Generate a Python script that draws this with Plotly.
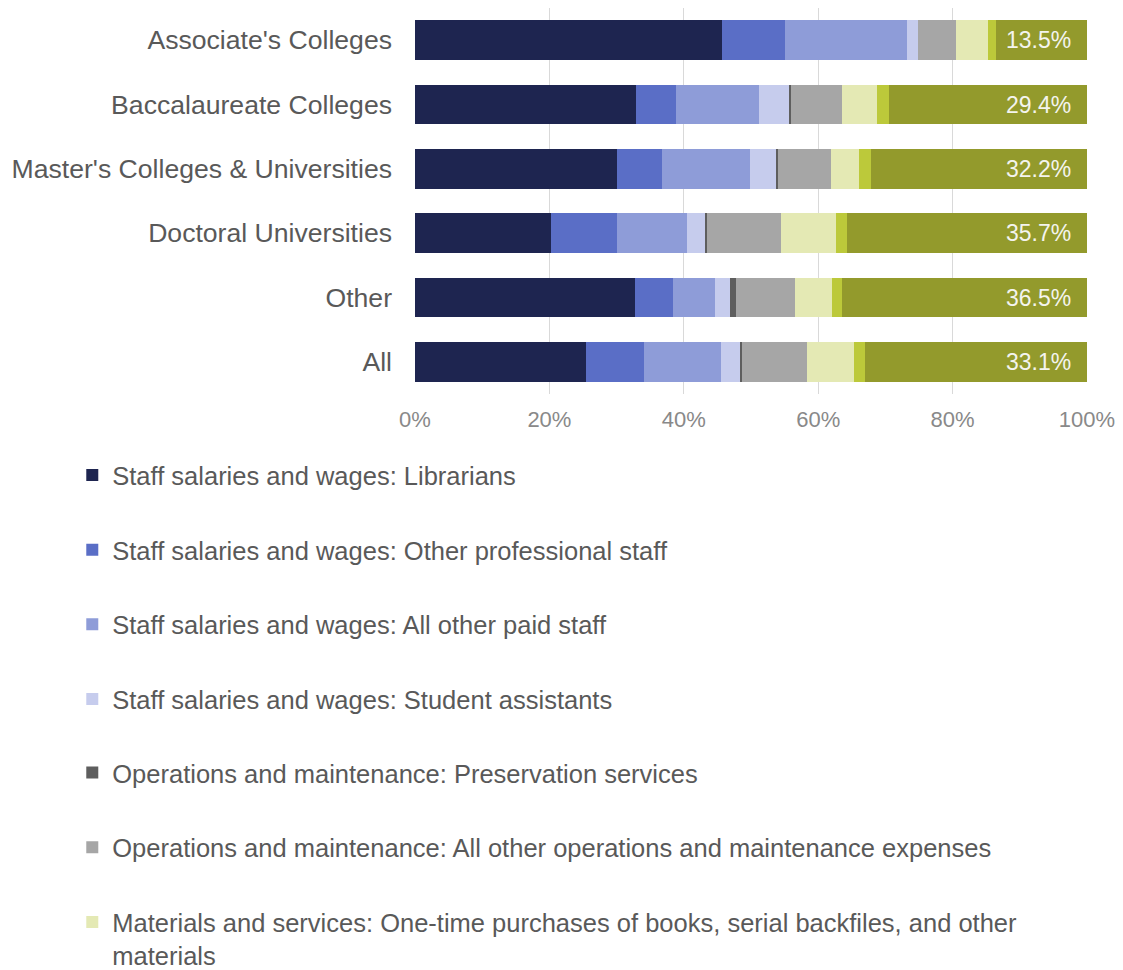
import plotly.graph_objects as go

# Library expense shares by institution type (percent of total expenses)
categories = [
    "Associate's Colleges",
    "Baccalaureate Colleges",
    "Master's Colleges & Universities",
    "Doctoral Universities",
    "Other",
    "All",
]

series_names = [
    "Staff salaries and wages: Librarians",
    "Staff salaries and wages: Other professional staff",
    "Staff salaries and wages: All other paid staff",
    "Staff salaries and wages: Student assistants",
    "Operations and maintenance: Preservation services",
    "Operations and maintenance: All other operations and maintenance expenses",
    "Materials and services: One-time purchases of books, serial backfiles, and other<br>materials",
    "Materials and services: All other materials/services cost",
    "Materials and services: Ongoing commitments to subscriptions",
]

librarians = [45.7, 32.9, 30.0, 20.3, 32.7, 25.4]
other_professional = [9.3, 6.0, 6.7, 9.7, 5.7, 8.7]
other_paid = [18.2, 12.3, 13.1, 10.5, 6.2, 11.4]
student_assistants = [1.7, 4.4, 4.0, 2.7, 2.3, 2.8]
preservation = [0.0, 0.3, 0.2, 0.3, 0.9, 0.3]
other_operations = [5.6, 7.6, 7.9, 10.9, 8.7, 9.7]
one_time_purchases = [4.8, 5.3, 4.2, 8.3, 5.5, 7.0]
other_materials = [1.2, 1.8, 1.7, 1.6, 1.5, 1.6]
subscriptions = [13.5, 29.4, 32.2, 35.7, 36.5, 33.1]

series_values = [
    librarians, other_professional, other_paid, student_assistants,
    preservation, other_operations, one_time_purchases, other_materials,
    subscriptions,
]

colors = [
    "#1e2550", "#5a6ec6", "#8e9cd8", "#c6cced", "#5e5e5e",
    "#a6a6a6", "#e4e9b4", "#bcc93a", "#939a2c",
]

# Legend membership: first four in the upper legend, next three in the lower one;
# the last two series are not listed
legend_ids = ["legend"] * 4 + ["legend2"] * 3 + [None, None]

FONT = "Liberation Sans, Arial, Helvetica, sans-serif"
LEGEND_SIZE = 25.5
LEGEND_GAP = 38.5

fig = go.Figure()
for i, (name, vals, col, leg) in enumerate(zip(series_names, series_values, colors, legend_ids)):
    fig.add_trace(go.Bar(
        y=categories,
        x=vals,
        name=name,
        orientation="h",
        marker=dict(color=col, line=dict(width=0)),
        legendgroup=f"g{i}",
        legend=leg if leg else "legend",
        showlegend=leg is not None,
        hoverinfo="x+name",
    ))

# Value labels for the subscriptions segment, placed at the end of each bar
totals = [sum(s[k] for s in series_values) for k in range(len(categories))]
for cat, total, val in zip(categories, totals, subscriptions):
    fig.add_annotation(
        x=total, y=cat, xref="x", yref="y",
        text=f"{val:.1f}%", showarrow=False,
        xanchor="right", xshift=-14,
        font=dict(family=FONT, size=23, color="#f4f4ee"),
    )

legend_style = dict(
    orientation="v",
    x=-0.51,
    xanchor="left",
    yanchor="top",
    traceorder="grouped",
    tracegroupgap=LEGEND_GAP,
    valign="top",
    font=dict(family=FONT, size=LEGEND_SIZE, color="#595959"),
    bgcolor="rgba(0,0,0,0)",
    itemclick=False,
    itemdoubleclick=False,
)

fig.update_layout(
    width=1123,
    height=970,
    barmode="stack",
    bargap=0.38,
    plot_bgcolor="white",
    paper_bgcolor="white",
    margin=dict(l=415, r=36, t=8, b=576, autoexpand=False),
    font=dict(family=FONT, color="#595959"),
    xaxis=dict(
        range=[0, 100],
        tickvals=[0, 20, 40, 60, 80, 100],
        ticktext=["0%", "20%", "40%", "60%", "80%", "100%"],
        showgrid=True,
        gridcolor="#d9d9d9",
        gridwidth=1,
        zeroline=False,
        showline=False,
        tickfont=dict(size=22, color="#898989"),
        ticklabelstandoff=10,
        fixedrange=True,
    ),
    yaxis=dict(
        autorange="reversed",
        showgrid=False,
        showline=False,
        tickfont=dict(size=26.6, color="#595959"),
        ticklabelstandoff=22,
        fixedrange=True,
    ),
    legend=dict(legend_style, y=-0.150),
    legend2=dict(legend_style, y=-0.921),
    showlegend=True,
)

fig.write_html("out.html")
